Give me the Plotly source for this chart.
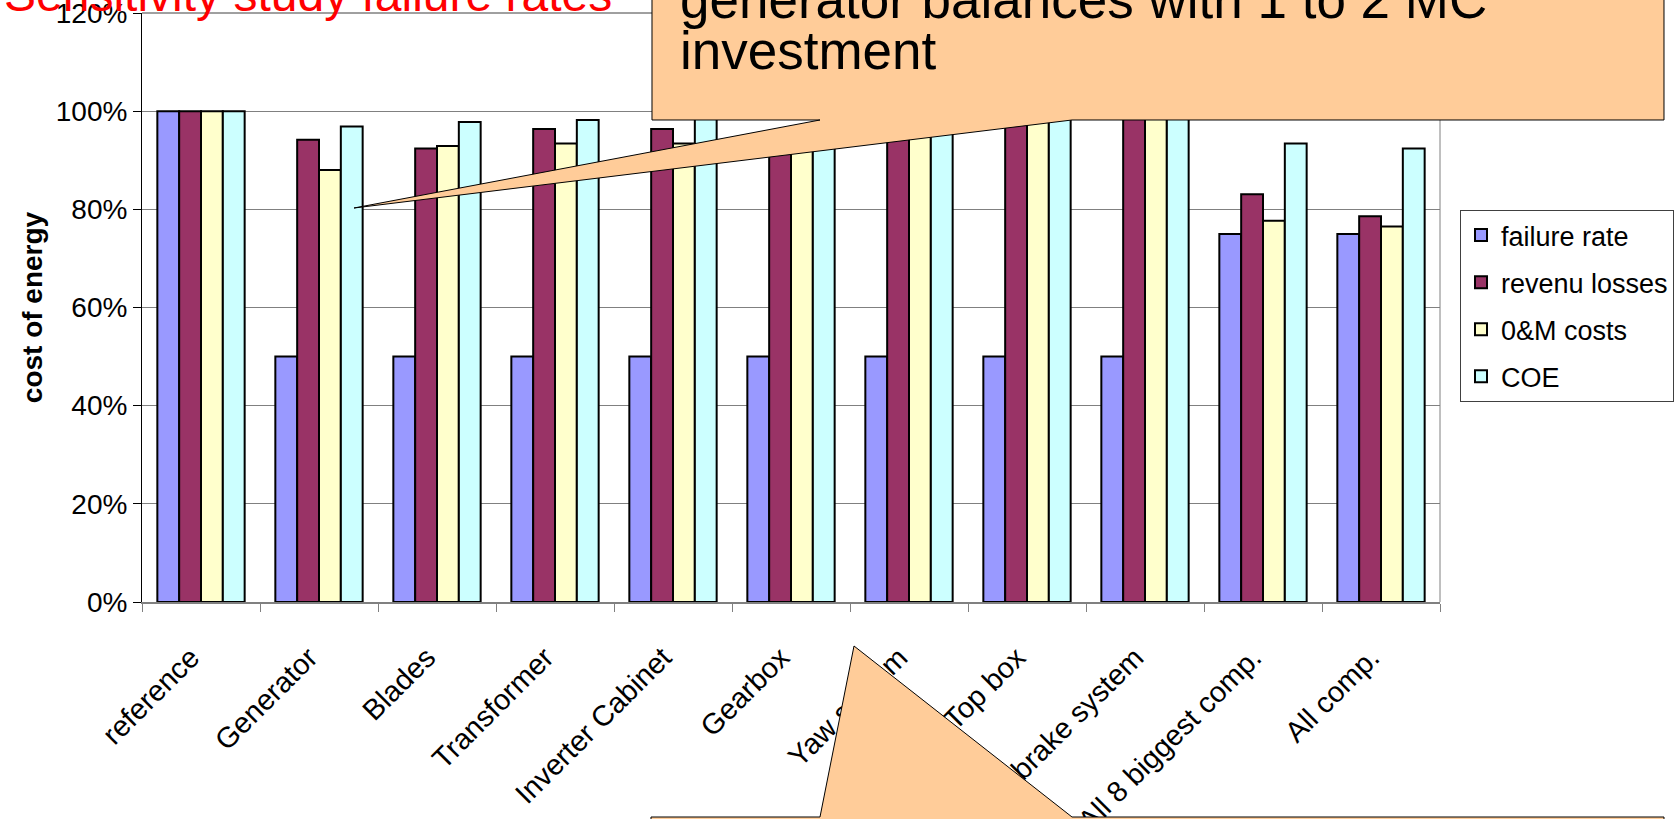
import plotly.graph_objects as go

categories = ["reference", "Generator", "Blades", "Transformer", "Inverter Cabinet",
              "Gearbox", "Yaw system", "Top box", "brake system",
              "All 8 biggest comp.", "All comp."]
failure_rate = [1.00, 0.50, 0.50, 0.50, 0.50, 0.50, 0.50, 0.50, 0.50, 0.75, 0.75]
revenu_losses = [1.00, 0.942, 0.924, 0.964, 0.964, 0.950, 0.965, 0.985, 0.995, 0.831, 0.786]
om_costs = [1.00, 0.880, 0.929, 0.934, 0.934, 0.935, 0.955, 0.980, 0.990, 0.777, 0.765]
coe = [1.00, 0.969, 0.978, 0.982, 0.990, 0.965, 0.975, 0.990, 0.995, 0.934, 0.924]

series_names = ["failure rate", "revenu losses", "0&M costs", "COE"]
series_values = [failure_rate, revenu_losses, om_costs, coe]
series_colors = ["#9999FF", "#993366", "#FFFFCC", "#CCFFFF"]

title_text = "Sensitivity study failure rates"
callout_line1 = "generator balances with 1 to 2 MC"
callout_line2 = "investment"

W, H = 1675, 819
L, R, T, B = 142, 1440, 13, 602   # plot area in pixels


def px(x):
    return (x - L) / (R - L)


def py(y):
    return (B - y) / (B - T)


FONT = "Liberation Sans, Arial, sans-serif"

fig = go.Figure()
for i, (name, vals, col) in enumerate(zip(series_names, series_values, series_colors)):
    fig.add_trace(go.Bar(
        x=categories, y=vals, name=name, legendgroup=f"g{i}",
        marker=dict(color=col, line=dict(color="black", width=2)),
    ))


def path(points):
    s = "M " + " L ".join(f"{px(x):.5f},{py(y):.5f}" for x, y in points) + " Z"
    return s


callout_top = [(652, -30), (652, 120), (820, 120), (354, 208), (1072, 120),
               (1664, 120), (1664, -30)]
callout_bottom = [(651, 850), (651, 817), (820, 817), (854, 646), (1072, 817),
                  (1664, 817), (1664, 850)]

shapes = [
    dict(type="line", xref="paper", yref="paper", x0=1, x1=1, y0=0, y1=1,
         line=dict(color="#808080", width=1), layer="below"),
    dict(type="line", xref="paper", yref="paper", x0=0, x1=1, y0=1, y1=1,
         line=dict(color="#404040", width=1), layer="below"),
    dict(type="path", xref="paper", yref="paper", path=path(callout_top),
         fillcolor="#FFCC99", line=dict(color="black", width=1), layer="above"),
    dict(type="path", xref="paper", yref="paper", path=path(callout_bottom),
         fillcolor="#FFCC99", line=dict(color="black", width=1), layer="above"),
]

annotations = [
    dict(text=title_text, xref="paper", yref="paper", x=px(2), y=py(-5.6),
         xanchor="left", yanchor="middle", showarrow=False,
         font=dict(family=FONT, size=48, color="#FF0000")),
    dict(text=callout_line1, xref="paper", yref="paper", x=px(678), y=py(0.0),
         xanchor="left", yanchor="middle", showarrow=False,
         font=dict(family=FONT, size=53, color="black")),
    dict(text=callout_line2, xref="paper", yref="paper", x=px(678), y=py(50.0),
         xanchor="left", yanchor="middle", showarrow=False,
         font=dict(family=FONT, size=53, color="black")),
]

fig.update_layout(
    width=W, height=H,
    margin=dict(l=L, r=W - R, t=T, b=H - B, pad=0, autoexpand=False),
    paper_bgcolor="white", plot_bgcolor="white",
    barmode="group", bargap=0.26, bargroupgap=0,
    font=dict(family=FONT, color="black"),
    shapes=shapes, annotations=annotations,
    legend=dict(x=px(1460), y=py(210), xanchor="left", yanchor="top",
                bordercolor="#404040", borderwidth=1, bgcolor="white",
                font=dict(family=FONT, size=27, color="black"),
                traceorder="grouped", tracegroupgap=9, itemwidth=30),
    xaxis=dict(
        type="category", tickangle=-45, tickfont=dict(family=FONT, size=29, color="black"),
        showline=True, linecolor="#808080", linewidth=2,
        ticks="outside", tickson="boundaries", ticklen=8, tickcolor="#808080",
        showgrid=False, automargin=False, ticklabelstandoff=25, ticklabelshift=-10,
    ),
    yaxis=dict(
        range=[0, 1.2001], tickvals=[0, 0.2, 0.4, 0.6, 0.8, 1.0, 1.2], tickformat=".0%",
        tickfont=dict(family=FONT, size=28, color="black"), ticklabeloverflow="allow",
        showline=True, linecolor="black", linewidth=1,
        ticks="outside", ticklen=8, tickcolor="black",
        showgrid=True, gridcolor="#808080", gridwidth=1, zeroline=False,
        automargin=False,
        title=dict(text="<b>cost of energy</b>", font=dict(family=FONT, size=28, color="black"),
                   standoff=4),
    ),
)

fig.write_html("out.html")
